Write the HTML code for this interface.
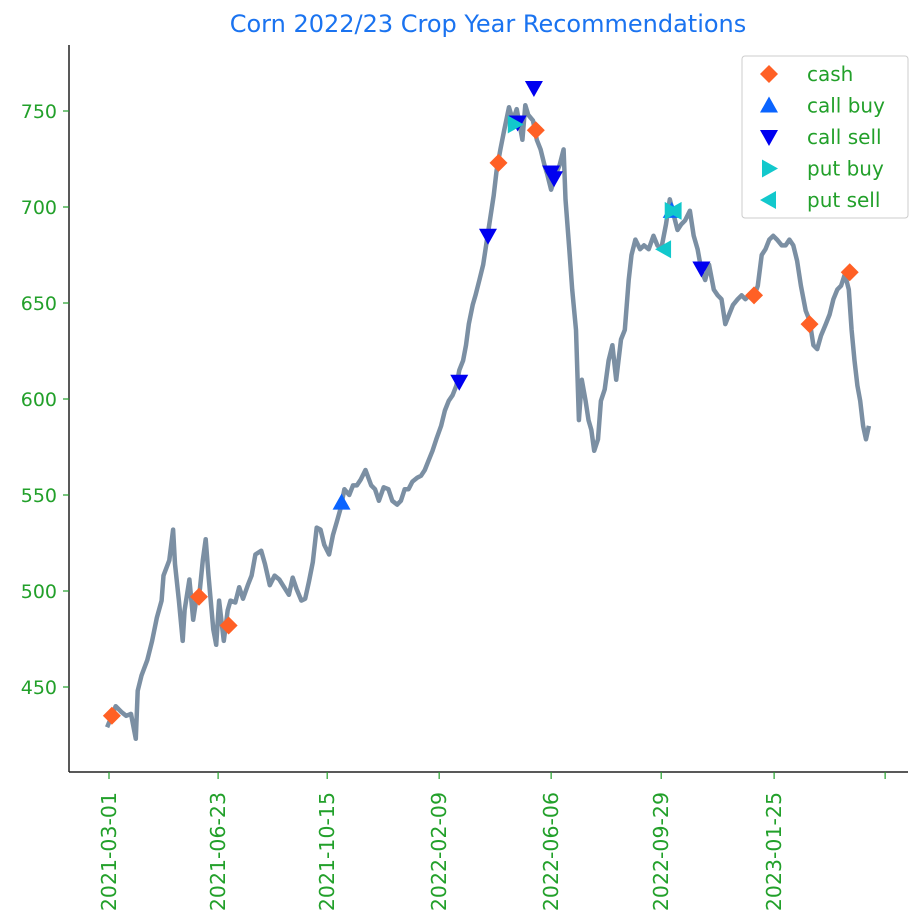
<!DOCTYPE html>
<html><head><meta charset="utf-8"><style>
html,body{margin:0;padding:0;background:#fff;width:923px;height:923px;overflow:hidden}
svg text{font-family:"DejaVu Sans","Liberation Sans",sans-serif}
</style></head><body>
<svg id="chart" width="923" height="923" viewBox="0 0 923 923">
<text x="488" y="32" text-anchor="middle" font-size="24" fill="#1a73f0">Corn 2022/23 Crop Year Recommendations</text>
<g id="series"></g>
<g id="markers"></g>
<line x1="69" y1="45" x2="69" y2="772" stroke="#222" stroke-width="1.5"/>
<line x1="69" y1="772" x2="908" y2="772" stroke="#222" stroke-width="1.5"/>
<g id="axes"></g>
<g>
<rect x="742" y="56" width="166" height="162" rx="3" fill="#fff" stroke="#ccc" stroke-width="1"/>
<g id="legend-items"></g>
</g>
</svg>
<script>
const priceDays=[-2,3,7,13,18,23,28,30,34,40,45,50,55,57,63,67,69,73,77,79,84,88,91,95,98,101,104,109,112,115,120,124,127,132,136,140,145,149,153,159,163,168,173,178,183,188,192,196,201,205,209,213,217,221,225,230,234,238,242,246,251,255,259,263,268,274,278,282,287,292,296,301,305,309,313,317,322,326,330,334,338,342,347,351,355,359,363,366,370,373,376,380,383,387,391,394,398,402,405,409,413,418,422,426,429,432,435,438,443,447,451,455,458,462,467,471,475,477,481,484,488,491,494,498,501,504,507,511,514,518,522,526,530,535,539,543,546,550,555,559,564,569,573,577,582,586,590,594,598,602,607,611,615,619,623,627,632,636,640,644,648,652,657,661,665,669,673,678,682,686,690,694,698,703,707,711,715,719,723,728,732,736,740,744,749,753,757,761,765,769,773,776,779,782,785,788,791,794];
const priceValues=[429,435,440,437,435,436,423,448,456,464,474,486,495,508,516,532,514,495,474,490,506,485,495,501,516,527,508,480,472,495,474,490,495,494,502,496,503,508,519,521,514,503,508,506,502,498,507,501,495,496,505,515,533,532,524,519,529,536,543,553,550,555,555,558,563,555,553,547,554,553,547,545,547,553,553,557,559,560,563,568,573,579,586,594,599,602,607,615,620,628,639,649,654,662,670,680,693,706,719,730,740,752,745,751,743,735,753,748,745,735,730,722,717,709,717,722,730,704,678,657,636,589,610,599,589,584,573,579,599,605,620,628,610,631,636,662,675,683,678,680,678,685,680,678,691,704,696,688,691,693,698,685,678,667,662,670,657,654,652,639,644,649,652,654,652,654,652,659,675,678,683,685,683,680,680,683,680,672,659,646,641,628,626,633,639,644,652,657,659,665,657,636,620,607,599,586,579,586];
const yTicks=[450,500,550,600,650,700,750];
const xTickLabels=["2021-03-01","2021-06-23","2021-10-15","2022-02-09","2022-06-06","2022-09-29","2023-01-25",""];
const xTickDays=[0,114,228,345,462,577,695,811];
const cashDays=[3,94,125,407,446,674,732,774];
const cashValues=[435,497,482,723,740,654,639,666];
const callBuyDays=[243,588];
const callBuyValues=[546,698];
const callSellDays=[366,396,427,444,462,465,619];
const callSellValues=[609,685,744,762,718,715,668];
const putBuyDays=[424,588];
const putBuyValues=[743,698];
const putSellDays=[591,580];
const putSellValues=[698,678];

const NS="http://www.w3.org/2000/svg";
const xs=d=>109+d*0.957;
const ys=v=>111+(750-v)*1.92;
function mk(tag,attrs,parent){const e=document.createElementNS(NS,tag);for(const k in attrs)e.setAttribute(k,attrs[k]);parent.appendChild(e);return e;}
const G="#22a02a";
const axes=document.getElementById('axes');
yTicks.forEach(v=>{
  const t=mk('line',{x1:63,x2:69,y1:ys(v),y2:ys(v),stroke:G,'stroke-width':1.2},axes);
  
  
  const l=mk('text',{x:57,y:ys(v)+7,'text-anchor':'end','font-size':19,fill:G},axes);
  l.textContent=v;
  
  
});
xTickDays.forEach((d,i)=>{
  const x=xs(d);
  const t=mk('line',{x1:x,x2:x,y1:772,y2:779,stroke:G,'stroke-width':1.2},axes);
  
  
  if(xTickLabels[i]){
    const l=mk('text',{x:0,y:0,'text-anchor':'end','font-size':20.5,fill:G,transform:`translate(${x+7},792) rotate(-90)`},axes);
    l.textContent=xTickLabels[i];
    
    
  }
});
const series=document.getElementById('series');
const pts=priceDays.map((d,i)=>xs(d).toFixed(1)+','+ys(priceValues[i]).toFixed(1)).join(' ');
const pl=mk('polyline',{points:pts,fill:'none',stroke:'#7b8fa3','stroke-width':4.5,'stroke-linejoin':'round'},series);



const shapes={
  diamond:(x,y)=>`${x},${y-9} ${x+9},${y} ${x},${y+9} ${x-9},${y}`,
  up:(x,y)=>`${x},${y-9} ${x+9},${y+7} ${x-9},${y+7}`,
  down:(x,y)=>`${x},${y+9} ${x+9},${y-7} ${x-9},${y-7}`,
  right:(x,y)=>`${x+9},${y} ${x-7},${y-9} ${x-7},${y+9}`,
  left:(x,y)=>`${x-9},${y} ${x+7},${y-9} ${x+7},${y+9}`
};
const groups=[
 {name:'cash',label:'cash',shape:'diamond',color:'#ff6025',d:cashDays,v:cashValues},
 {name:'call-buy',label:'call buy',shape:'up',color:'#0a64ff',d:callBuyDays,v:callBuyValues},
 {name:'call-sell',label:'call sell',shape:'down',color:'#0000f0',d:callSellDays,v:callSellValues},
 {name:'put-buy',label:'put buy',shape:'right',color:'#12c8cc',d:putBuyDays,v:putBuyValues},
 {name:'put-sell',label:'put sell',shape:'left',color:'#12c8cc',d:putSellDays,v:putSellValues}
];
const mg=document.getElementById('markers');
groups.forEach(g=>{
  g.d.forEach((d,i)=>{
    const p=mk('polygon',{points:shapes[g.shape](xs(d),ys(g.v[i])),fill:g.color},mg);
    
    
  });
});
const lg=document.getElementById('legend-items');
groups.forEach((g,i)=>{
  const y=74+i*31.5;
  const p=mk('polygon',{points:shapes[g.shape](769,y),fill:g.color},lg);
  
  
  const t=mk('text',{x:807,y:y+7,'font-size':20,fill:G},lg);
  t.textContent=g.label;
  
  
});
</script>
</body></html>
